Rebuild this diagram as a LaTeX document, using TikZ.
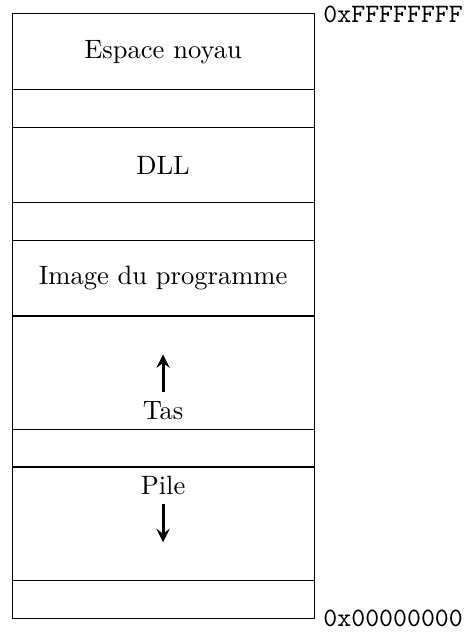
\documentclass[tikz,border=0pt]{standalone}
\usetikzlibrary{positioning,arrows}
\tikzset{
    seg/.style={draw, minimum width=4cm, outer sep=0pt},
    big/.style={seg, minimum height=1cm},
    gap/.style={seg, minimum height=0.5cm},
    zone/.style={seg, minimum height=1.5cm},
    addr/.style={anchor=west, font=\ttfamily},
    sens/.style={very thick, -stealth}
}

\begin{document}
\begin{tikzpicture}
  [
    node distance = 0pt,
  ]
  \useasboundingbox (-0.16,-0.185) rectangle (6.0,8.185);
  \node [big, anchor=north west] (noyau) at (0,8) {Espace noyau};
  \node [gap, below=of noyau] (libreA) {};
  \node [big, below=of libreA] (dll) {DLL};
  \node [gap, below=of dll] (libreB) {};
  \node [big, below=of libreB] (image) {Image du programme};
  \node [zone, below=of image] (tas) {};
  \node [gap, below=of tas] (libreC) {};
  \node [zone, below=of libreC] (pile) {};
  \node [gap, below=of pile] (libreD) {};
  % tas et pile
  \node [above] (tasl) at (tas.south) {Tas};
  \coordinate [above=0.5cm of tasl] (tashaut);
  \draw [sens] (tasl.north) -- (tashaut);
  \node [below] (pilel) at (pile.north) {Pile};
  \coordinate [below=0.5cm of pilel] (pilebas);
  \draw [sens] (pilel.south) -- (pilebas);
  % adresses
  \node [addr] (haut) at (noyau.north east) {0xFFFFFFFF};
  \node [addr] (bas) at (libreD.south east) {0x00000000};
\end{tikzpicture}
\end{document}
